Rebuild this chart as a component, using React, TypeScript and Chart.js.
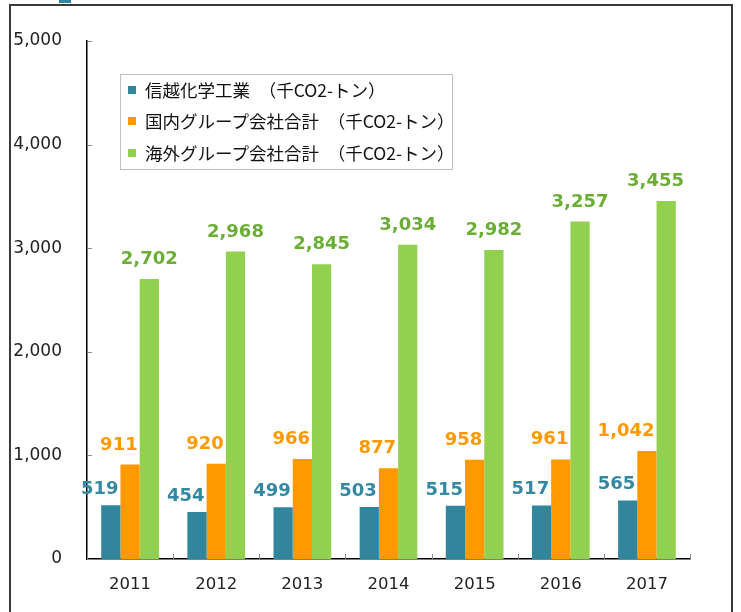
import React, { useEffect, useRef } from 'react';
import { Chart, registerables } from 'chart.js';

Chart.register(...registerables);

// ---- data ----
const categories = ['2011', '2012', '2013', '2014', '2015', '2016', '2017'];
const shinEtsu = [519, 454, 499, 503, 515, 517, 565];
const domestic = [911, 920, 966, 877, 958, 961, 1042];
const overseas = [2702, 2968, 2845, 3034, 2982, 3257, 3455];
const seriesNames = [
  '信越化学工業\u2002（千CO2-トン）',
  '国内グループ会社合計\u2002（千CO2-トン）',
  '海外グループ会社合計\u2002（千CO2-トン）',
];
const yMin = 0;
const yMax = 5000;
const yStep = 1000;

const barColors = ['#31859C', '#FF9900', '#92D050'];
const labelColors = ['#3588A2', '#FF9900', '#6BAE35'];

const fmt = (v: number) => v.toLocaleString('en-US');

const valueLabels = {
  id: 'valueLabels',
  afterDatasetsDraw(chart: any) {
    const ctx = chart.ctx;
    const area = chart.chartArea;
    ctx.save();
    ctx.font = 'bold 18px "DejaVu Sans"';
    ctx.textBaseline = 'alphabetic';
    chart.data.datasets.forEach((ds: any, di: number) => {
      const meta = chart.getDatasetMeta(di);
      meta.data.forEach((bar: any, i: number) => {
        const v = ds.data[i];
        const text = fmt(v);
        const { x, y, width } = bar.getProps(['x', 'y', 'width'], true);
        ctx.fillStyle = labelColors[di];
        if (di === 2) {
          const w = ctx.measureText(text).width;
          let cx = x;
          if (cx + w / 2 > area.right - 6) cx = area.right - 6 - w / 2;
          ctx.textAlign = 'center';
          ctx.fillText(text, cx, y - 15);
        } else {
          ctx.textAlign = 'right';
          ctx.fillText(text, x + width / 2 - 2, y - (di === 0 ? 11 : 15));
        }
      });
    });
    ctx.restore();
  },
};

const innerTicks = {
  id: 'innerTicks',
  afterDraw(chart: any) {
    const { ctx, chartArea, scales } = chart;
    const ys = scales.y;
    ctx.save();
    ctx.strokeStyle = '#8c8c8c';
    ctx.lineWidth = 1;
    ctx.beginPath();
    ys.ticks.forEach((_t: any, i: number) => {
      const py = Math.round(ys.getPixelForTick(i)) + 0.5;
      ctx.moveTo(chartArea.left, py);
      ctx.lineTo(chartArea.left + 5, py);
    });
    const n = categories.length;
    const step = (chartArea.right - chartArea.left) / n;
    for (let i = 0; i <= n; i++) {
      const px = Math.round(chartArea.left + i * step) + 0.5;
      ctx.moveTo(px, chartArea.bottom);
      ctx.lineTo(px, chartArea.bottom - 5);
    }
    ctx.stroke();
    ctx.restore();
  },
};

export default function App() {
  const ref = useRef<HTMLCanvasElement | null>(null);

  useEffect(() => {
    if (!ref.current) return;
    const series = [shinEtsu, domestic, overseas];
    const chart = new Chart(ref.current, {
      type: 'bar',
      data: {
        labels: categories,
        datasets: series.map((d, i) => ({
          label: seriesNames[i],
          data: d,
          backgroundColor: barColors[i],
          borderWidth: 0,
          categoryPercentage: 0.67,
          barPercentage: 1.0,
        })),
      },
      options: {
        responsive: false,
        animation: false,
        layout: { padding: { top: 41, right: 51, left: 0, bottom: 0 } },
        plugins: {
          legend: { display: false },
          tooltip: { enabled: false },
        },
        scales: {
          x: {
            grid: { display: false, drawTicks: false },
            border: { display: true, color: '#000', width: 1.5 },
            ticks: {
              color: '#222',
              font: { family: 'DejaVu Sans', size: 16.5 },
              padding: 16,
            },
            afterFit: (s: any) => {
              s.height = 53;
            },
          },
          y: {
            min: yMin,
            max: yMax,
            grid: { display: false, drawTicks: false },
            border: { display: true, color: '#000', width: 1.5 },
            ticks: {
              stepSize: yStep,
              color: '#222',
              font: { family: 'DejaVu Sans', size: 17 },
              padding: 25,
              callback: (v: any) => fmt(Number(v)),
            },
            afterFit: (s: any) => {
              s.width = 87;
            },
          },
        },
      },
      plugins: [valueLabels, innerTicks],
    });
    return () => chart.destroy();
  }, []);

  return (
    <div
      style={{
        position: 'absolute',
        left: 0,
        top: 0,
        width: 741,
        height: 612,
        overflow: 'hidden',
        background: '#fff',
      }}
    >
      <div
        style={{
          position: 'absolute',
          left: 59,
          top: 0,
          width: 12,
          height: 3,
          background: '#31859C',
        }}
      />
      <div
        style={{
          position: 'absolute',
          left: 9,
          top: 4,
          width: 724,
          height: 700,
          border: '2px solid #3a3a3a',
          boxSizing: 'border-box',
        }}
      />
      <canvas
        ref={ref}
        width={741}
        height={612}
        style={{ position: 'absolute', left: 0, top: 0, width: 741, height: 612 }}
      />
      <div
        style={{
          position: 'absolute',
          left: 120,
          top: 74,
          width: 333,
          height: 96,
          border: '1px solid #BFBFBF',
          boxSizing: 'border-box',
          background: '#fff',
        }}
      >
        {seriesNames.map((name, i) => (
          <div
            key={name}
            style={{
              position: 'absolute',
              left: 7,
              top: 0.5 + i * 31.6,
              height: 28,
              display: 'flex',
              alignItems: 'center',
              whiteSpace: 'pre',
            }}
          >
            <span
              style={{
                display: 'inline-block',
                width: 8,
                height: 8,
                background: barColors[i],
                marginRight: 9,
              }}
            />
            <span
              style={{
                fontFamily: '"Noto Sans CJK JP", sans-serif',
                fontSize: 17.5,
                color: '#111',
                lineHeight: '28px',
              }}
            >
              {name}
            </span>
          </div>
        ))}
      </div>
    </div>
  );
}
